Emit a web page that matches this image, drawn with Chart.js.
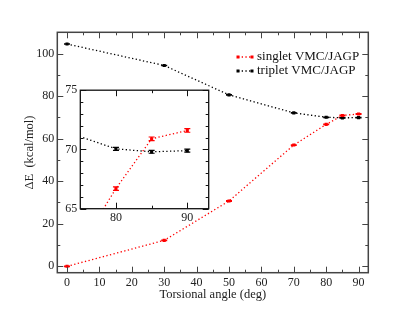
<!DOCTYPE html>
<html>
<head>
<meta charset="utf-8">
<script src="https://cdn.jsdelivr.net/npm/chart.js@4.4.0/dist/chart.umd.min.js"></script>
<style>
    html, body { margin: 0; padding: 0; background: #fff; }
    #wrap { position: relative; width: 415px; height: 321px; }
    #mainChart { position: absolute; left: 0; top: 0; }
    #insetChart { position: absolute; left: 60px; top: 80px; }
</style>
</head>
<body>
<div id="wrap">
    <canvas id="mainChart" width="415" height="321"></canvas>
    <canvas id="insetChart" width="160" height="150"></canvas>
</div>
<script>
// data
const angles = [0, 30, 50, 70, 80, 85, 90];
const singlet = [0.0, 12.2, 30.7, 57.0, 66.7, 70.9, 71.6];
const triplet = [104.5, 94.4, 80.6, 72.1, 70.05, 69.8, 69.9];
const singletErr = [0.15, 0.15, 0.15, 0.15, 0.15, 0.15, 0.15];
const tripletErr = [0.12, 0.12, 0.12, 0.12, 0.12, 0.12, 0.12];
const seriesNames = ['singlet VMC/JAGP', 'triplet VMC/JAGP'];
const seriesColors = ['#ff0000', '#000000'];

const xTicksMain = [0, 10, 20, 30, 40, 50, 60, 70, 80, 90];
const xMinorMain = [5, 15, 25, 35, 45, 55, 65, 75, 85];
const yTicksMain = [0, 20, 40, 60, 80, 100];
const yMinorMain = [10, 30, 50, 70, 90];

const xTicksInset = [80, 90];
const xMinorInset = [85];
const yTicksInset = [65, 70, 75];
const yMinorInset = [66, 67, 68, 69, 71, 72, 73, 74];

const serif = '"Liberation Serif", "DejaVu Serif", serif';

function makeDatasets() {
    const ys = [singlet, triplet];
    const errs = [singletErr, tripletErr];
    return ys.map((vals, i) => ({
        label: seriesNames[i],
        data: angles.map((a, k) => ({ x: a, y: vals[k] })),
        errors: errs[i],
        borderColor: seriesColors[i],
        backgroundColor: seriesColors[i],
        borderWidth: 1.3,
        borderDash: [1.3, 2.4],
        pointStyle: 'rect',
        pointRadius: 2.2,
        pointBorderWidth: 0,
        pointBackgroundColor: seriesColors[i],
        tension: 0
    }));
}

// inward tick marks on all four sides + frame
const frameTicks = {
    id: 'frameTicks',
    beforeDraw(chart, args, opts) {
        if (!opts.fillArea) return;
        const { ctx, chartArea: a } = chart;
        ctx.save();
        ctx.fillStyle = '#fff';
        ctx.fillRect(a.left, a.top, a.width, a.height);
        ctx.restore();
    },
    afterDraw(chart, args, opts) {
        const { ctx, chartArea: a, scales: { x, y } } = chart;
        ctx.save();
        ctx.strokeStyle = opts.color;
        ctx.lineWidth = 1;
        ctx.beginPath();
        const vx = (vals, len) => vals.forEach(v => {
            const px = Math.round(x.getPixelForValue(v)) + 0.5;
            ctx.moveTo(px, a.bottom); ctx.lineTo(px, a.bottom - len);
            ctx.moveTo(px, a.top); ctx.lineTo(px, a.top + len);
        });
        const vy = (vals, len) => vals.forEach(v => {
            const py = Math.round(y.getPixelForValue(v)) + 0.5;
            ctx.moveTo(a.left, py); ctx.lineTo(a.left + len, py);
            ctx.moveTo(a.right, py); ctx.lineTo(a.right - len, py);
        });
        vx(opts.xMajor, 6); vx(opts.xMinor, 3);
        vy(opts.yMajor, 6); vy(opts.yMinor, 3);
        ctx.stroke();
        ctx.lineWidth = opts.frameWidth;
        ctx.strokeRect(a.left, a.top, a.width, a.height);
        ctx.restore();
    }
};

const errorBars = {
    id: 'errorBars',
    afterDatasetsDraw(chart) {
        const { ctx, chartArea: a, scales: { y } } = chart;
        ctx.save();
        chart.data.datasets.forEach((ds, i) => {
            const meta = chart.getDatasetMeta(i);
            ctx.strokeStyle = ds.borderColor;
            ctx.lineWidth = 1.2;
            meta.data.forEach((pt, k) => {
                if (pt.x < a.left || pt.x > a.right || pt.y < a.top || pt.y > a.bottom) return;
                const v = ds.data[k].y;
                const e = ds.errors[k];
                const y1 = y.getPixelForValue(v - e);
                const y2 = y.getPixelForValue(v + e);
                ctx.beginPath();
                ctx.moveTo(pt.x, y1); ctx.lineTo(pt.x, y2);
                ctx.moveTo(pt.x - 3, y1); ctx.lineTo(pt.x + 3, y1);
                ctx.moveTo(pt.x - 3, y2); ctx.lineTo(pt.x + 3, y2);
                ctx.stroke();
            });
        });
        ctx.restore();
    }
};

const customLegend = {
    id: 'customLegend',
    afterDraw(chart) {
        const ctx = chart.ctx;
        ctx.save();
        ctx.font = '13px ' + serif;
        ctx.textBaseline = 'middle';
        seriesNames.forEach((name, i) => {
            const yy = 57 + i * 14;
            const col = seriesColors[i];
            ctx.strokeStyle = col;
            ctx.fillStyle = col;
            ctx.lineWidth = 1.3;
            ctx.setLineDash([1.3, 2.4]);
            ctx.beginPath();
            ctx.moveTo(238, yy); ctx.lineTo(252, yy);
            ctx.stroke();
            ctx.setLineDash([]);
            ctx.fillRect(236.5, yy - 1.5, 3, 3);
            ctx.fillRect(250.5, yy - 1.5, 3, 3);
            ctx.fillStyle = '#111';
            ctx.fillText(name, 257, yy);
        });
        ctx.restore();
    }
};

function fixedTicks(list) {
    return scale => { scale.ticks = list.map(v => ({ value: v })); };
}

new Chart(document.getElementById('mainChart').getContext('2d'), {
    type: 'line',
    data: { datasets: makeDatasets() },
    options: {
        responsive: false,
        animation: false,
        devicePixelRatio: 1,
        layout: { padding: { left: 0, top: 32.3, right: 46.7, bottom: 0 } },
        plugins: {
            legend: { display: false },
            tooltip: { enabled: false },
            frameTicks: {
                color: '#444', frameWidth: 1.5,
                xMajor: xTicksMain, xMinor: xMinorMain,
                yMajor: yTicksMain, yMinor: yMinorMain
            }
        },
        scales: {
            x: {
                type: 'linear', min: -3, max: 93,
                afterBuildTicks: fixedTicks(xTicksMain),
                afterFit: scale => { scale.height = 48.3; },
                grid: { display: false, drawTicks: false },
                border: { display: false },
                ticks: { padding: 3, color: '#222', font: { family: serif, size: 12 } },
                title: {
                    display: true, text: 'Torsional angle (deg)', color: '#222',
                    font: { family: serif, size: 12.5 }, padding: { top: 0, bottom: 18.5 }
                }
            },
            y: {
                type: 'linear', min: -3, max: 110,
                afterBuildTicks: fixedTicks(yTicksMain),
                afterFit: scale => { scale.width = 57.3; },
                grid: { display: false, drawTicks: false },
                border: { display: false },
                ticks: { padding: 3, color: '#222', font: { family: serif, size: 12 } },
                title: {
                    display: true, text: 'ΔE  (kcal/mol)', color: '#222',
                    font: { family: serif, size: 12.5 }, padding: { top: 22.5, bottom: 0 }
                }
            }
        }
    },
    plugins: [frameTicks, errorBars, customLegend]
});

new Chart(document.getElementById('insetChart').getContext('2d'), {
    type: 'line',
    data: { datasets: makeDatasets() },
    options: {
        responsive: false,
        animation: false,
        devicePixelRatio: 1,
        layout: { padding: { left: 0, top: 10, right: 11.3, bottom: 0 } },
        plugins: {
            legend: { display: false },
            tooltip: { enabled: false },
            frameTicks: {
                color: '#111', frameWidth: 1.3, fillArea: true,
                xMajor: xTicksInset, xMinor: xMinorInset,
                yMajor: yTicksInset, yMinor: yMinorInset
            }
        },
        scales: {
            x: {
                type: 'linear', min: 75, max: 93,
                afterBuildTicks: fixedTicks(xTicksInset),
                afterFit: scale => { scale.height = 21.3; },
                grid: { display: false, drawTicks: false },
                border: { display: false },
                ticks: { padding: 2, color: '#222', font: { family: serif, size: 12 } }
            },
            y: {
                type: 'linear', min: 65, max: 75,
                afterBuildTicks: fixedTicks(yTicksInset),
                afterFit: scale => { scale.width = 20.3; },
                grid: { display: false, drawTicks: false },
                border: { display: false },
                ticks: { padding: 3, color: '#222', font: { family: serif, size: 12 } }
            }
        }
    },
    plugins: [frameTicks, errorBars]
});
</script>
</body>
</html>
